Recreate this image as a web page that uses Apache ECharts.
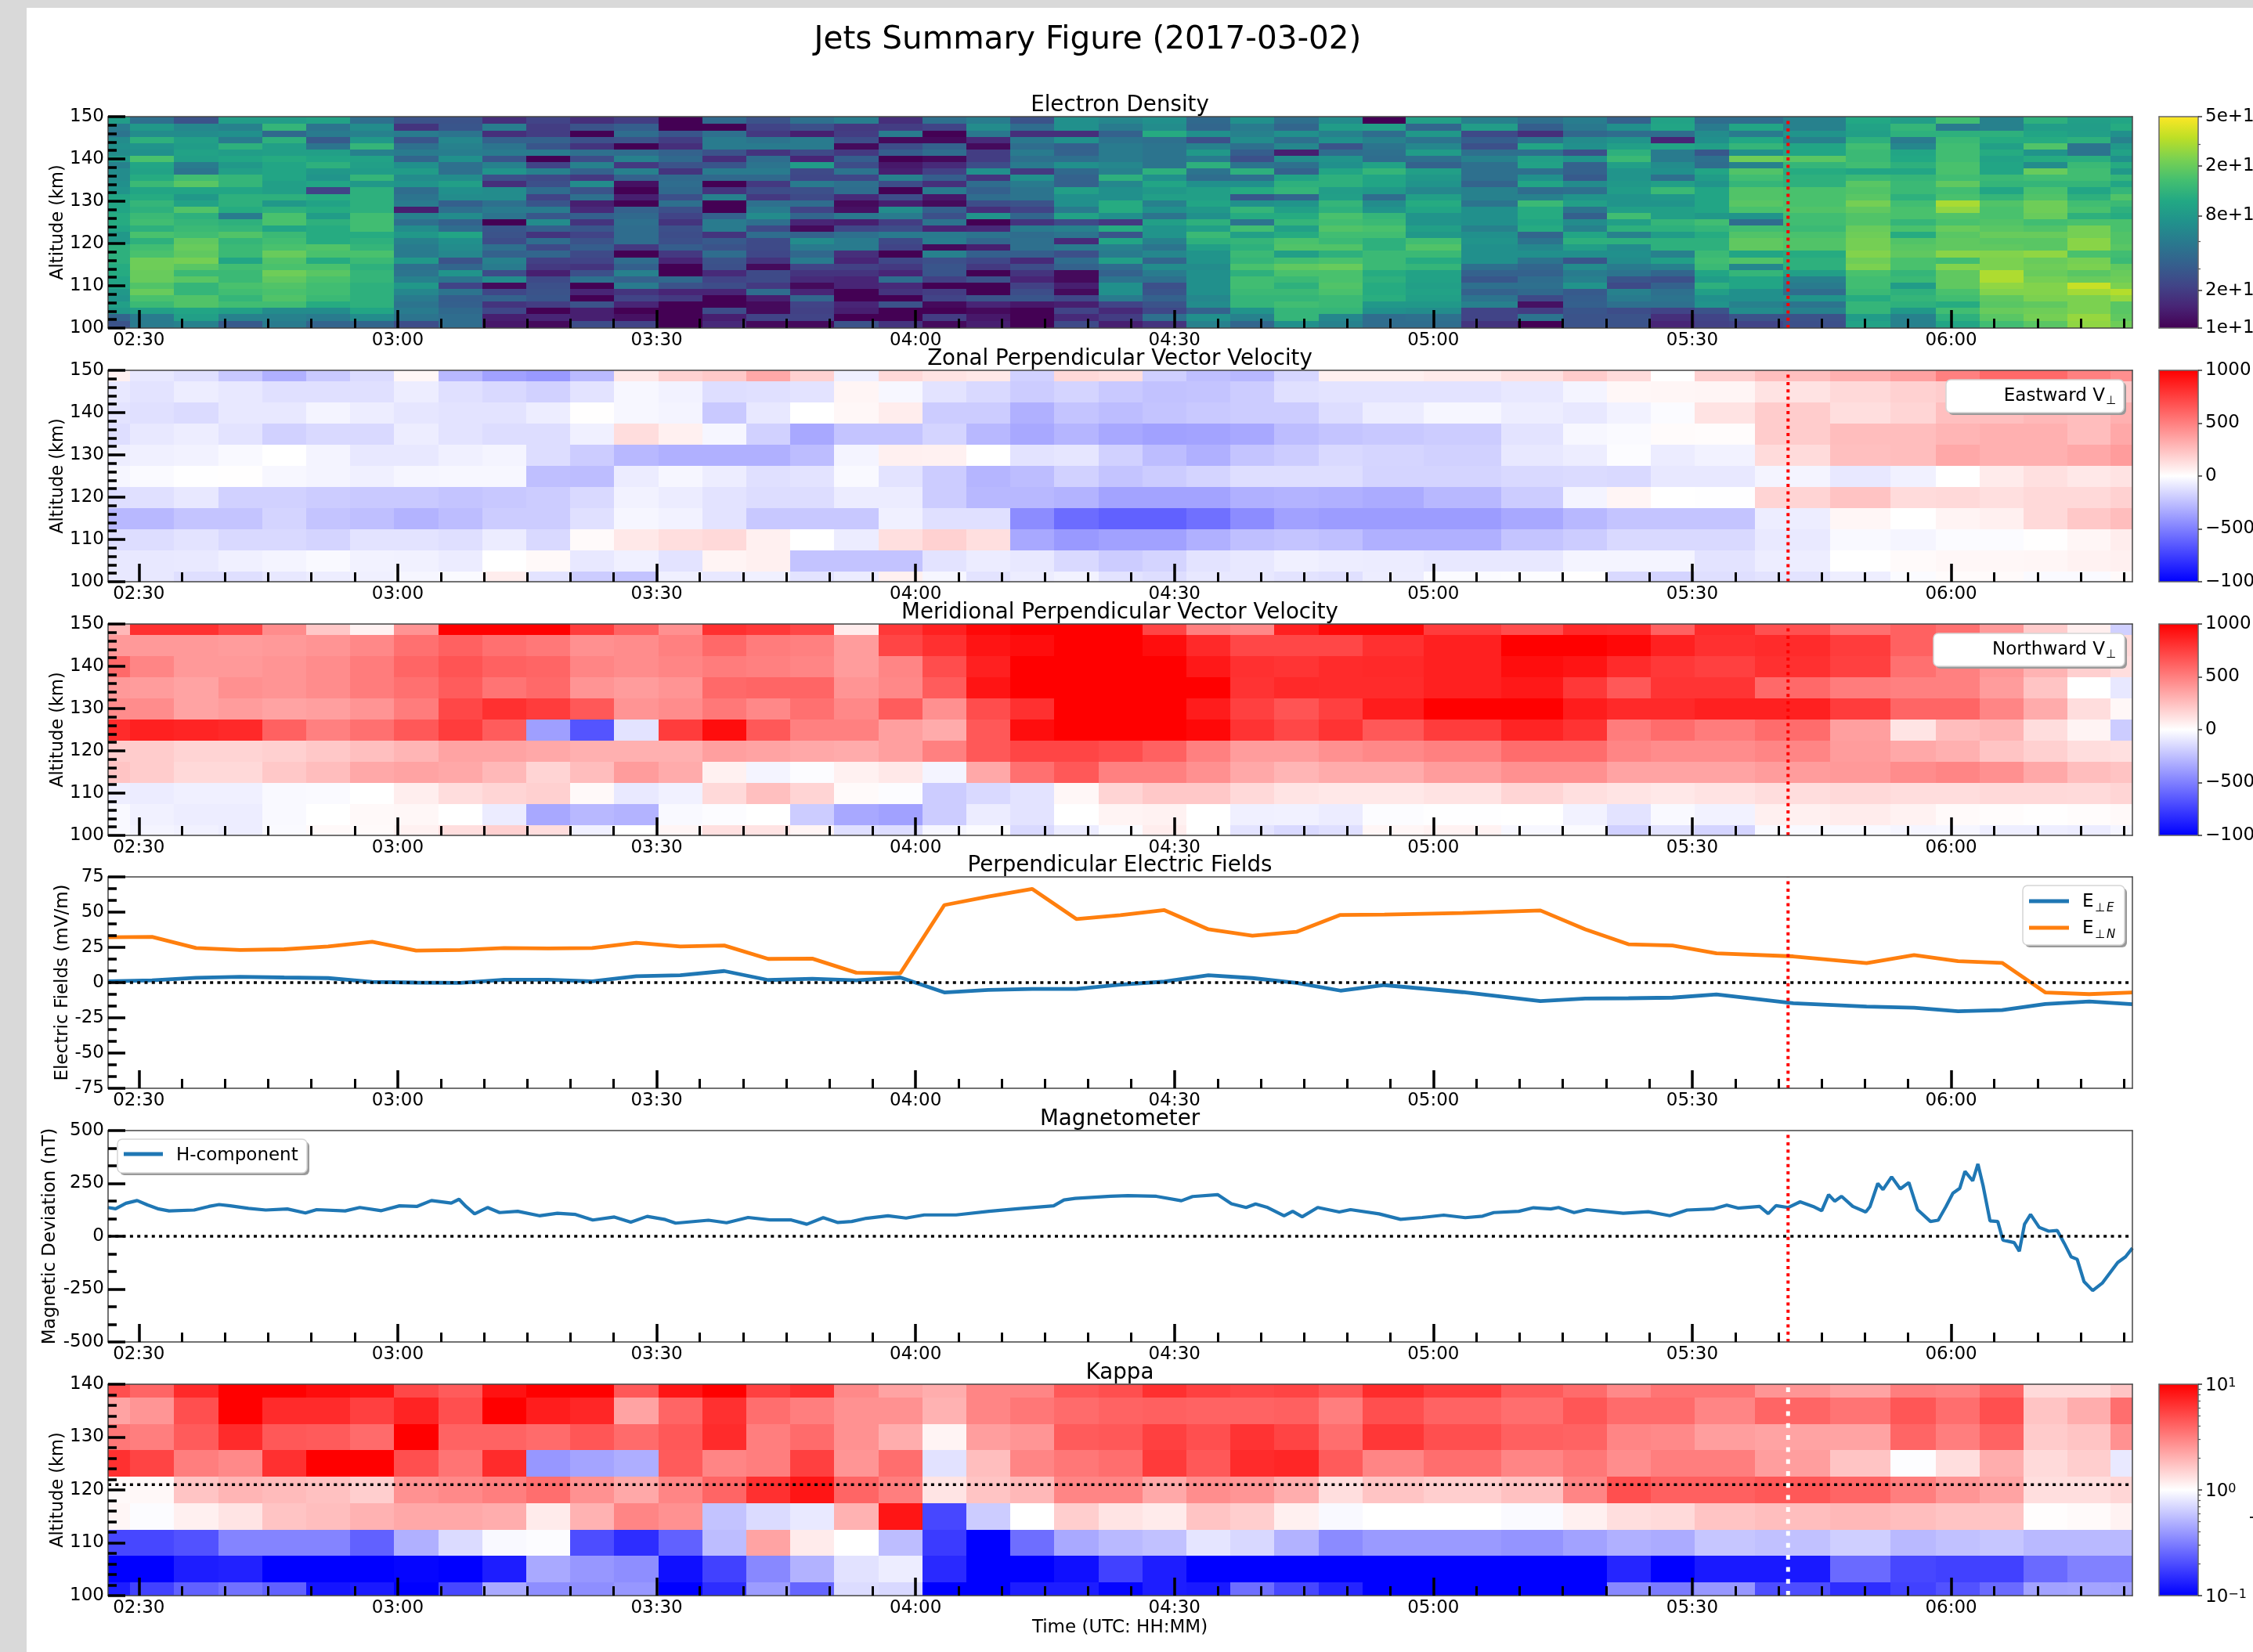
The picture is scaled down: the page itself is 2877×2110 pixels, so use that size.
<!DOCTYPE html>
<html><head><meta charset="utf-8">
<style>html,body{margin:0;padding:0;background:#d9d9d9;overflow:hidden}
#bg{position:absolute;left:34px;top:10px;right:0;bottom:0;background:#fff}
#c{position:absolute;left:0;top:0;width:2877px;height:2110px}</style>
<script src="https://cdn.jsdelivr.net/npm/echarts@6/dist/echarts.min.js"></script>
</head><body><div id="bg"></div><div id="c"></div>
<script>
// ---------- data (times in minutes after 00:00 UT, altitudes in km) ----------
const regularTimes=[146.43,151.53,156.63,161.73,166.83,171.93,177.03,182.13,187.23,192.33,197.43,202.53,207.63,212.73,217.83,222.93,228.03,233.13,238.23,243.33,248.43,253.53,258.63,263.73,268.83,273.93,279.03,284.13,289.23,294.33];
const velTimes=regularTimes.concat([303.4,312.4,317.6,322.6,327.7,332.8,341.7,350.2,355.7,360.8,365.9,370.9,376.0,381.0]);
const denTimes=regularTimes.concat([299.3,307.1,312.4,317.6,322.6,327.7,332.8,335.7,345.4,350.2,355.7,360.8,365.9,370.9,376.0,381.0]);
const velAlt=[150,145,140,135,130,125,120,115,110,105,100];
const kapAlt=[140,135,130,125,120,115,110,105,100];
const denAlt=[149,147.5,146,144.5,143,141.5,140,138.5,137,135.5,134,132.5,131,129.5,128,126.5,125,123.5,122,120.5,119,117.5,116,114.5,113,111.5,110,108.5,107,105.5,104,102.5,101];
const eventTime=341.1, kappaLine=121;
// electron density, units of 1e10 m^-3, rows top to bottom
const density=[
[8.6,4.2,2.7,8.6,8.6,9.5,4.2,2.7,2.7,1.7,2.2,1.7,2,1,3.8,2.7,4.2,5.2,1.7,4.2,5.2,2.7,7,6,7,3.8,7,4.2,6.5,1,9,5.5,4.2,5.2,3.4,9.5,4,4,5.5,10.5,8.6,15,5.5,12,9,10],
[5,8,6,5.5,13,4.5,6.5,1.8,2.8,5.2,2,2.7,3.2,1,1,2.2,2.6,1.9,2,2.2,6.5,4,7,5,6.5,3.6,5,3.6,8.5,9,3.6,8.6,3.2,4.8,7,10,5,10,5.5,9.5,13,5,5.5,8.6,8.6,11],
[4.5,6.5,6.5,7,3.8,5,5.5,5,4.5,1.7,2,1,4,2.8,4.2,1.9,1.4,2,5,1,4.8,1.7,1.7,3.4,11,7,5.5,7,5.5,4,8,2.4,1.7,3.7,4,4,6.5,5,7.5,9,12,12,12,10,9,7],
[6.5,12,9,5,12,3,8,2.8,6,3.4,3.4,2.6,2.7,2,5,4.5,5,2.5,1.1,1.1,1.6,4.8,7,4.5,4.2,2.6,6.5,4.2,7,5.5,4.5,3.2,4.5,6.5,7.5,1.5,7,10.5,5.5,12,5,14,11,11,12,5.5],
[7,7.5,8.5,12,9,4.5,13,4.2,5.5,4.5,2.8,1.8,1,1.7,5,5,5,1.1,2.5,3.4,1.1,4,3.3,5,4.5,5.5,4.2,6,2.7,4.5,6,2.6,10,7,9,10,9,13,10,15,6,15,9,17,4.5,8],
[6.5,7,9.5,8.6,9,9,5.5,5,5.2,5,5,4.2,4,3.4,2.7,1.8,2.4,1.9,3.2,4,2,5,3.4,5,4.5,8,3.2,1.4,4,4.2,8.5,4.2,4.2,2.6,12,5,2.9,7,10,14,10,15,11,7.5,4.5,9.5],
[8,16,9,10,11,10,9.5,3.6,7,2.8,1,2.5,5.5,3.8,1.7,4,1.5,3.2,1,1.1,2,4.2,4.2,5,4.5,5,2.6,6.5,7.5,4,4.2,5.5,9,7.5,14,5,4.2,21,18,14,10.5,15,9.5,11,11.5,7],
[5.5,10,5,8,10,12,9,7,4.2,5.5,2.2,5.5,1.9,2.7,2.8,4.5,8.5,2.5,1.3,1.6,2.5,5,7,6,4.5,12,4.5,4.2,7,9.5,3.4,4.2,9.5,3.4,9,6.5,4,5.5,13,15,12,16,10,6.5,14,11],
[6.5,9.5,4.5,9,10,8,8.5,8.5,4.2,7.5,5.5,3.4,5.5,1.8,5,5,2.4,4.5,1.4,2.1,7,1.9,3.8,5.5,12,4.5,12,3.4,10,13,9,4.2,4.2,3.4,7.5,7,10,17,11,10,10,16,10,20,15,8],
[6.5,11,15,13,10,7.5,13,6.5,6.5,2.6,2.4,1.9,3.4,3.8,3.8,3.8,2.3,2.3,5.5,3.2,1.8,7,3.4,12,7,4,4.2,9.5,12,10,8,4.2,7,3,7.5,4.2,8.5,15,12,14,13,15,14,15,15,13],
[7,14,18,13,9,10,8,7.5,9,1.7,2.6,6.5,1.2,4,1,1.9,5,4.2,2.5,1.7,4,5,3.4,6,10,7,7,12,12,10,7.5,3.5,10,6.5,8,9,7.5,13,12,18,14,19,13,13,13,10],
[7.5,10,10,10,9,2.2,12,4,7,6.5,4,2.7,1,3.8,1.8,2.5,2.6,4,1,5,3.3,4.5,9,7,8,9,11,13,8.6,8,6,5.5,4,4.2,8.5,14,10,17,16,17,14,15,10,16,10,13],
[10,11,8,12,12,11,12,4.5,6.5,6.5,2.2,4.2,1.4,2.6,5.5,1.9,2.4,1.6,2.5,1.3,4,4.5,7,7,9,9,2.9,3.6,9,4,9,5.5,5.5,7.5,7.5,8,10,17,16,18,12,16,13,17,12,17],
[10,13,9.5,12,8,9.5,12,5,3.3,4.2,2.8,1.4,1,4.2,1,4.2,4,1.1,1.4,1.1,2.5,2.7,7,11,5.5,10,7,7.5,13,6.5,11,4.5,14,9,7.5,7.5,10,18,16,22,15,30,17,21,15,14],
[10,12,17,11,12,11,12,1.4,4.2,5,5,1.6,3.4,2.6,1,5,2.2,1.2,6.5,3.3,1.7,2.2,5,11,7,8,13,9,12,7.5,10,7,11,4.5,9,9,10,16,17,19,16,26,16,21,16,12],
[11,14,12,5,16,8.5,15,5.5,6.5,4.5,2.9,3.3,3.8,2.2,3.4,6.5,3.6,4.8,5,2.6,7.5,3.6,9.5,7,4.5,7,11,11,16,13,7.5,7,11,3.3,15,9,8,7.5,15,17,16,17,16,20,12,11],
[11,15,13,12,16,12,15,4.2,3.4,1,6.5,1.8,4.2,1.8,5,4.2,1.5,1.4,2,4.5,1,1.8,2.4,1.9,9,12,4.5,13,15,14,7.5,7,10,6.5,9,13,15,4,15,17,13,16,17,15,16,16],
[10,12,14,13,10,11,15,6.5,4,2.8,3.3,2.8,4,2.6,5,2.4,1.1,2.3,2.5,1.5,1.6,5,5.5,11,7.5,9,15,9,17,16,9,5.5,11,5.5,12,12,13,15,14,20,16,20,18,17,22,16],
[8,16,15,17,14,11,11,8,10,2.7,1.8,2.2,4,2.5,1.8,4,3.4,4.2,5,5,4.5,4,4.5,2.8,7.5,14,9,11,15,15,8,7,3.6,10,5.5,8.5,11,17,16,21,11,18,20,20,22,17],
[8,12,19,13,15,11,12,5.5,7,2.5,4,2.7,4,2.6,3,2.4,6.5,5,2.4,5.2,3.6,4.2,1.6,10,5.5,12,13,16,14,12,15,7.5,4.5,12,12,12,12,19,17,22,17,19,18,18,25,17],
[12,15,20,14,16,17,13,5,6.5,4.2,2.4,3.2,1.9,3.2,2.7,2.4,5,5,2.2,1.1,1.4,4.2,5,5.5,4.5,9,12,17,17,12,17,7,6,9,6.5,12,12,19,17,22,18,19,19,18,25,18],
[12,16,19,14,20,16,16,5,6,3.4,3.6,2.4,1,1.9,4,2.3,3.7,1.7,1,5.5,3.3,3.2,2.6,5,6,7.5,14,9,12,14,14,7,7,7,7,5.5,14,10,11,24,19,25,24,26,16,15],
[12,21,22,10,17,11,14,8,2.7,5.5,2.1,2.2,4,1.5,2.7,1.8,5,1.5,2.3,2.6,2.3,1.6,4,9,3.6,7.5,13,15,16,14,11,7,4.5,2.8,6.5,9,15,17,12,21,16,15,23,20,22,14],
[11,21,18,15,16,16,12,4.2,3.6,5,1.9,1.8,3.3,1,2.6,1.1,2.2,2.1,1.9,2.8,1.9,2.5,3.4,4,6.5,6.5,16,19,20,14,13,4.2,3.6,6.5,5,5.5,14,6,12,23,16,24,23,21,23,19],
[11,20,14,14,21,18,13,4.5,7.5,2.5,1.4,2.6,5.5,1,1.6,2.4,1.8,1.8,1.5,2.8,1,1.8,1.1,3.4,5,7,12,16,16,11,9.5,3.4,3.4,5,4.5,3.6,10,13,9,16,13,19,31,20,18,20],
[10,20,18,14,19,16,13,5.5,4.5,6.5,2.4,4.2,3.4,3.8,2.2,2.4,1.6,1.5,4,2.1,2.6,1.5,1.1,4.5,4.2,7,15,14,16,12,9.5,2.9,4,5.5,2.8,2.6,8.5,10,5.5,15,14,19,31,22,20,21],
[10,17,13,16,17,15,12,8,2.2,1.1,2.6,1,5,2.7,2.5,1.9,1.1,1.5,1.6,1,1,2.1,1.4,7,2.6,7,15,12,17,11,9,4.2,4.2,7.5,2.4,3.4,12,10,5,15,8.5,19,26,24,36,23],
[8,20,13,15,16,15,12,6,4.5,2.3,2.7,1.5,1.8,1.5,1.5,4,1.5,1,1.8,2,1,2.5,1.1,7,2.8,7,14,14,16,11,9.5,3.4,3.8,3,5.5,4.2,9,7,4,14,12,16,24,24,29,32],
[7.5,16,17,13,17,14,12,5,3.2,3.4,2.8,1,2.2,1.9,1,1.4,3.6,1,1,2.2,2.7,2.8,2.3,5,3.4,6,13,13,14,11.5,9,4.5,2.4,3.2,5,4.5,7,7,7.5,11,13,15,19,23,23,27],
[9,14,17,15,15,11,12,4.5,3.3,1.8,2,2.7,1.5,1,1,1.1,2.2,1.5,2.7,1.1,1.5,1.3,1.4,2.2,2.7,6.5,13,15,14,8,8,5.5,1.2,3.3,4.2,4.2,7.5,5.5,4.5,13,12,11,18,19,23,18],
[8,9,10,9,6.5,6.5,10,5,3.8,2.3,1,1.4,1,1,2.5,1.1,2.1,1.4,1,1,1.1,1,2.2,1.6,2.3,3.4,7.5,13,13,7,6.5,2.2,2,2.8,2.5,2.2,2.7,6.5,5.5,13,8,15,20,21,23,18],
[3.5,5,9,5.5,5.5,5,6.5,4.5,4,1.4,1.5,1.4,1.2,1,1.4,2.2,2.2,1,1,2,1.3,1,1.6,2,4.2,7,5.5,13,6,4,4.2,2.2,4.5,2.7,2.7,1.7,2.2,2.7,2.7,8.5,5.5,12,18,22,27,19],
[2.7,5,5.5,3,5,3.5,3.6,2.5,4,1.3,1.1,2.5,2.2,1,1.6,1.1,1.1,2.7,1.8,1.1,1.4,1,2.4,1.4,1.8,5.5,3.6,7,5.5,4,4,1.8,1,2.7,2.7,1.5,2.1,2.2,2.6,9.5,5.5,10,15,18,26,21]
];
// eastward (zonal) velocity, m/s
const zonal=[
[60,-90,-120,-215,-310,-210,-140,30,-280,-370,-400,-270,90,180,210,340,180,-60,150,110,90,-180,150,130,-190,-250,-280,-160,60,60,80,120,200,140,0,180,250,310,370,500,590,590,500,440],
[-90,-110,-70,-90,-120,-120,-120,-70,-120,-150,-180,-110,-30,-50,-130,-120,-110,40,-30,-110,-150,-200,-170,-210,-240,-230,-200,-120,-110,-110,-110,-90,-45,30,35,40,110,150,180,200,210,200,200,220],
[-110,-120,-140,-90,-90,-45,-70,-100,-110,-110,-70,5,-30,-45,-210,-90,0,30,70,-200,-200,-310,-230,-260,-230,-210,-200,-200,-135,-75,-35,-70,-90,-50,-15,110,200,130,165,250,250,280,260,310],
[-130,-90,-70,-110,-180,-150,-150,-70,-110,-135,-135,-60,135,60,-35,-180,-340,-230,-230,-170,-280,-340,-290,-340,-370,-360,-340,-260,-230,-215,-200,-110,-30,-20,15,10,200,260,260,290,310,310,260,340],
[-70,-60,-50,-25,0,-45,-90,-90,-60,-45,-135,-200,-280,-310,-310,-310,-260,-45,60,55,0,-110,-100,-180,-260,-310,-230,-200,-150,-165,-180,-90,-70,-10,-75,-50,140,250,260,340,310,310,340,390],
[-35,-20,-5,5,-30,-45,-60,-35,-30,-30,-250,-260,-75,-35,-70,-120,-110,-25,-110,-200,-290,-260,-180,-230,-200,-170,-130,-130,-130,-170,-170,-150,-140,-150,-90,-90,-45,-90,-55,0,80,120,90,110],
[-130,-120,-90,-180,-180,-200,-210,-210,-230,-215,-200,-150,-50,-75,-110,-135,-135,-75,-75,-200,-280,-280,-300,-360,-360,-360,-310,-300,-310,-330,-280,-200,-45,40,0,-5,170,235,140,150,125,150,150,180],
[-280,-280,-230,-230,-170,-230,-250,-300,-260,-200,-200,-120,-35,-50,-110,-215,-215,-215,-60,-120,-120,-450,-575,-620,-620,-560,-450,-370,-390,-390,-390,-340,-280,-230,-230,-230,-70,35,0,45,60,150,215,260],
[-135,-135,-110,-150,-150,-170,-110,-110,-125,-75,-150,20,90,130,150,60,0,-75,125,180,125,-340,-400,-370,-370,-310,-250,-230,-250,-310,-310,-230,-200,-150,-150,-150,-85,-25,-40,-15,-15,5,35,70],
[-90,-90,-85,-60,-45,-25,-50,-55,-75,0,25,-90,-60,-110,45,60,-235,-235,-235,-110,-75,-90,-150,-200,-170,-110,-90,-60,-70,-75,-90,-90,-45,-45,-45,-110,-70,0,20,30,30,35,50,60],
[-90,-90,-125,-125,-90,-70,-60,-35,-20,70,-110,-200,-235,-60,-90,-60,-110,-75,60,-35,-110,-70,-50,-110,-130,-90,-90,-110,-120,-70,-15,-10,5,-150,-170,-125,-110,-65,-15,15,20,-20,-20,20]
];
// northward (meridional) velocity, m/s
const meridional=[
[280,810,810,720,450,215,55,420,1000,1000,1000,765,610,435,810,780,720,75,780,875,970,1000,1000,1000,730,500,465,875,970,970,765,700,840,830,620,830,685,560,620,560,400,200,65,-185],
[400,400,400,390,400,420,465,560,620,560,530,435,450,500,590,515,500,390,730,810,920,950,1000,1000,950,840,720,720,720,810,875,1000,1000,970,875,810,830,765,620,600,550,400,250,150],
[590,480,400,400,420,450,515,605,670,620,605,480,450,480,515,500,480,390,480,700,875,1000,1000,1000,1000,905,810,795,830,840,875,950,920,830,780,750,810,750,560,500,410,300,190,130],
[400,390,360,435,420,450,515,560,640,545,590,420,390,420,590,605,605,420,465,640,920,1000,1000,1000,1000,1000,800,840,830,830,875,905,780,655,795,795,590,515,500,500,390,230,0,-90],
[450,450,360,390,360,375,420,515,720,810,765,655,420,450,530,465,560,465,640,435,700,810,1000,1000,1000,890,750,670,750,890,1000,1000,890,840,840,875,875,765,605,605,480,330,135,30],
[830,875,860,840,620,500,560,655,765,640,-375,-670,-110,765,950,655,500,500,375,330,655,950,1000,1000,1000,970,800,720,800,655,765,860,800,515,575,515,575,375,105,260,290,135,45,-200],
[200,200,170,170,185,215,250,290,360,360,340,310,310,310,375,360,340,330,375,500,655,730,730,700,620,500,390,390,435,465,500,575,575,480,450,450,480,390,340,310,230,185,135,120],
[230,200,150,150,215,260,340,360,340,280,170,260,390,330,55,-45,-10,55,90,-45,340,560,655,500,500,435,340,290,330,330,390,435,435,360,360,360,390,400,450,480,435,340,260,235],
[-65,-75,-60,-60,-25,-20,0,65,135,165,185,25,-85,-55,150,250,170,20,-10,-200,-150,-110,30,170,215,215,150,105,90,90,110,165,125,105,90,110,135,150,135,135,150,150,145,165],
[-25,-55,-70,-70,-25,0,25,30,0,-75,-340,-280,-300,-25,-10,0,-200,-340,-370,-200,-75,-110,0,45,50,0,-60,-55,-75,-10,-5,0,-50,-110,-25,-50,60,75,50,20,10,5,10,25],
[-25,-45,-55,-70,-20,25,20,55,130,185,135,-60,0,40,120,110,45,-125,-135,-35,-15,-150,-75,-15,70,0,-110,-150,-125,35,50,-30,-15,-185,-110,-170,-25,-25,-40,-35,-65,-65,-75,-40]
];
// kappa
const kappa=[
[4.9,4,6.9,10,10,9,8.4,5.2,4.4,8.5,10,10,4.5,8.3,10,5.6,6.5,2.9,2.3,2.1,3,3,4.5,4.9,6.5,5.6,5.2,5.4,4.5,6.8,5.8,4.4,3.8,2.9,3.5,3.5,2.6,2.3,3.2,3.1,4,1.4,1.4,1.7],
[2.3,2.6,4.9,10,6.8,6.8,5.6,7.3,4.9,10,7.7,7.1,2.3,4,6.5,3.7,3.2,2.7,2.7,2,3,3.4,3.8,4.1,4.2,4.1,4.1,4.2,3.2,4.9,4.1,3.7,4.6,3.8,3.8,3,4,3.5,4.6,3.7,4.9,1.7,2.1,3.7],
[3.4,3.2,4.4,6.8,4.5,4.4,3.8,10,4.1,4.1,3.8,4.6,3.8,4.5,6.8,3.2,3.8,2.7,2.1,1.1,2.4,2.6,4.4,4.5,5.6,4.9,6.3,5.4,3.7,6.1,4.9,4.2,4.1,3,2.9,2.4,2.3,2.3,4,3.2,4.1,1.6,1.7,2.7],
[6.5,5.4,3.2,2.9,6.5,10,10,4.9,3.5,6.8,0.39,0.44,0.48,4.4,3,3.2,5.6,2.6,3.7,0.77,1.8,3,3.4,3.7,5.9,4.5,6.8,7.1,4.4,3,3.7,3,3.4,2.8,3.2,3.2,2.4,1.7,0.98,1.35,2.1,1.4,1.55,0.82],
[1.06,1.07,1.7,1.95,1.85,1.75,1.55,2.7,2.9,3.2,3.7,2.7,2.2,3,4,6.5,8.3,4,3.2,1.28,1.7,1.9,3,3,2.2,2.8,2.6,2.1,1.35,1.7,1.55,1.75,3,4.9,4.2,4.2,4.5,4,3.2,2.6,2.3,1.35,1.35,1.45],
[1.08,0.97,1.15,1.28,1.7,1.8,2,2.2,2.2,2.1,1.2,2,3,2.7,0.58,0.72,0.82,2,8.3,0.19,0.63,1,1.55,1.28,1.2,1.7,1.55,1.15,0.95,1,1,0.96,1.15,1.35,1.4,1.7,1.8,1.9,1.8,1.7,1.7,1.02,1.05,1.12],
[0.19,0.19,0.21,0.33,0.33,0.33,0.24,0.49,0.72,0.95,0.97,0.2,0.15,0.24,0.55,2.3,1.2,1,0.55,0.17,0.1,0.27,0.46,0.53,0.57,0.79,0.7,0.5,0.35,0.4,0.4,0.38,0.43,0.49,0.47,0.6,0.57,0.65,0.53,0.57,0.6,0.53,0.53,0.53],
[.1,.1,.13,.135,.1,.1,.1,.105,.1,.13,.46,.39,.36,.115,.18,.34,.5,.77,.85,.145,.1,.1,.115,.18,.13,.1,.1,.1,.1,.1,.1,.1,.1,.14,.1,.125,.125,.26,.19,.18,.18,.26,.32,.32],
[.13,.18,.24,.28,.24,.12,.125,.1,.19,.46,.36,.36,.39,.1,.15,.41,.25,.73,.7,.1,.1,.13,.13,.105,.13,.125,.27,.19,.14,.1,.1,.1,.1,.34,.3,.39,.2,.15,.18,.21,.26,.43,.44,.43]
];
// perpendicular electric field, mV/m (sampled at velTimes)
const eEast=[0.9,1.6,3.4,4.1,3.6,3.2,0.5,0,-0.2,2,2,0.9,4.5,5.2,8.2,1.8,2.7,1.6,3.6,-7,-5.2,-4.5,-4.5,-1.4,0.7,5.2,3.2,-0.2,-5.7,-1.8,-6.8,-13.1,-11.3,-11.1,-10.7,-8.4,-14.7,-17,-17.9,-20.4,-19.5,-15.2,-13.4,-15.4];
const eNorth=[32.2,32.4,24.5,23.1,23.6,25.6,29,22.7,23.1,24.5,24.2,24.5,28.3,25.6,26.3,16.8,17,7,6.6,55,61,66.4,45.1,47.8,51.4,37.8,33.3,36,48,48.3,49.4,51.2,37.8,27.2,26.3,20.8,18.6,13.8,19.5,15.2,14,-7,-8.2,-7];
// magnetometer H component, nT
const magTimes=[146.4,147.3,148.5,149.8,151,152.3,153.5,156.4,158.1,159.3,160.6,162.7,164.7,167.2,169.3,170.6,173.9,175.6,178.1,180.2,182.2,183.9,186.2,187.1,187.9,188.9,190.4,191.8,193.9,196.4,198.5,200.6,202.6,205.1,207,208.9,211,212.2,216,218.1,220.6,223.1,225.6,227.4,229.3,231,232.6,234.3,236.8,238.9,241,244.7,248.5,251.8,256,257.2,258.5,262.6,264.6,267.9,270.8,272.1,275,276.6,278.3,279.4,280.8,282.7,283.7,284.8,286.6,289.1,290.4,293.7,296.2,298.7,301.2,303.7,305.7,307,309.9,311.6,313.6,314.5,316.3,317.8,322,324.9,327.4,329.4,332.4,334,335.3,337.8,338.8,339.7,341.1,342.5,344,345,345.8,346.5,347.3,348.6,350.1,350.6,351.5,352.1,353.1,354.1,355.1,356.1,357.6,358.5,359.4,360.2,361,361.6,362.5,363.1,363.7,364.5,365.4,366,367.3,367.9,368.5,369.2,370.2,371.3,372.3,373.1,373.9,374.6,375.4,376.4,377.5,379.3,380.2,381];
const magH=[136,130,156,169,148,129,120,124,141,150,144,132,124,129,110,126,120,136,121,144,141,169,157,175,141,106,136,112,118,97,109,103,77,91,67,94,79,62,76,64,89,77,77,57,88,65,70,85,97,86,101,101,118,130,144,172,179,189,192,189,168,188,197,154,136,153,136,97,118,92,136,115,126,106,80,89,100,88,95,112,118,135,129,136,112,126,109,116,97,124,129,147,133,141,107,145,136,163,141,121,197,166,189,141,115,141,250,221,281,224,254,126,70,76,141,204,227,307,262,342,239,73,70,-18,-30,-71,57,103,42,24,27,-33,-97,-109,-215,-257,-222,-124,-97,-56];
const timeMajor=[150,180,210,240,270,300,330,360];
const timeMinor=[155,160,165,170,175,185,190,195,200,205,215,220,225,230,235,245,250,255,260,265,275,280,285,290,295,305,310,315,320,325,335,340,345,350,355,365,370,375,380];
const densityTicks=[1,2,8,20,50], densityLabels=['1e+10','2e+10','8e+10','2e+11','5e+11'], densityMinor=[3,5,30];
const kappaMinor=[.2,.3,.4,.5,.6,.7,.8,.9,2,3,4,5,6,7,8,9];

// ---------- colours ----------
const viridisStops=['#440154','#482475','#414487','#355f8d','#2a788e','#21918c','#22a884','#44bf70','#7ad151','#bddf26','#fde725'];
const hex=c=>[1,3,5].map(i=>parseInt(c.substr(i,2),16));
function viridis(t){t=Math.max(0,Math.min(1,t));const p=t*10,i=Math.min(9,Math.floor(p)),f=p-i,a=hex(viridisStops[i]),b=hex(viridisStops[i+1]);
  return 'rgb('+a.map((v,k)=>Math.round(v+(b[k]-v)*f)).join(',')+')';}
function bwr(s){s=Math.max(-1,Math.min(1,s));const c=Math.round(255*(1-Math.abs(s)));return s>=0?`rgb(255,${c},${c})`:`rgb(${c},${c},255)`;}
const colDensity=v=>viridis(Math.log10(v)/Math.log10(50));
const colVel=v=>bwr(v/1000);
const colKappa=v=>bwr(Math.log10(v));

// ---------- layout ----------
const FONT='DejaVu Sans', AL=138, AW=2723-138, CL=2757, CW=50, XMIN=146.43, XMAX=381.0;
const tops=[149,473,797,1120,1444,1768], H=270;
const spine={color:'#444',width:1.5};
const PAD=[4,0,0,0];
const grid=[],xAxis=[],yAxis=[],series=[];
const hhmm=v=>{const h=Math.floor(v/60),m=Math.round(v-h*60);return String(h).padStart(2,'0')+':'+String(m).padStart(2,'0');};
function addGrid(l,w,t,h){grid.push({left:l,top:t,width:w,height:h,containLabel:false,outerBoundsMode:'none',show:false});return grid.length-1;}
function timeAxes(g){
  const base={gridIndex:g,type:'value',min:XMIN,max:XMAX,splitLine:{show:false},z:10};
  const i=xAxis.length;
  xAxis.push({...base,position:'bottom',axisLine:{show:true,onZero:false,lineStyle:spine},
    axisTick:{show:true,inside:true,length:23,lineStyle:{color:'#000',width:3.5},customValues:timeMajor},
    axisLabel:{show:true,customValues:timeMajor,formatter:hhmm,color:'#000',fontSize:23,fontFamily:FONT,margin:5}});
  xAxis.push({...base,position:'bottom',axisLine:{show:false,onZero:false},
    axisTick:{show:true,inside:true,length:12,lineStyle:{color:'#000',width:3},customValues:timeMinor},axisLabel:{show:false}});
  xAxis.push({...base,position:'top',axisLine:{show:true,onZero:false,lineStyle:spine},axisTick:{show:false},axisLabel:{show:false}});
  return i;
}
function valueAxes(g,min,max,interval,split,name,gap,nameSize){
  const i=yAxis.length;
  yAxis.push({gridIndex:g,type:'value',position:'left',min,max,interval,splitLine:{show:false},z:10,
    axisLine:{show:true,onZero:false,lineStyle:spine},
    axisTick:{show:true,inside:true,length:22,lineStyle:{color:'#000',width:3.5}},
    minorTick:{show:true,splitNumber:split,length:11,lineStyle:{color:'#000',width:3.5}},minorSplitLine:{show:false},
    axisLabel:{color:'#000',fontSize:23,fontFamily:FONT,margin:5,padding:PAD},
    name,nameLocation:'middle',nameGap:gap,nameMoveOverlap:false,nameTextStyle:{color:'#000',fontSize:nameSize,fontFamily:FONT}});
  yAxis.push({gridIndex:g,type:'value',position:'right',min,max,interval,splitLine:{show:false},z:10,
    axisLine:{show:true,onZero:false,lineStyle:spine},axisTick:{show:false},axisLabel:{show:false}});
  return i;
}
function heat(xi,yi,rows,times,alts,colour,yMin,yMax){
  const data=[];rows.forEach((r,j)=>r.forEach((v,i)=>data.push([i,j,v])));
  const tEdge=i=>i<=0?XMIN:i>=times.length?XMAX:(times[i-1]+times[i])/2;
  // rows run top to bottom: edge j sits between rows j-1 and j
  const aEdge=j=>j<=0?yMax:j>=alts.length?yMin:(alts[j-1]+alts[j])/2;
  series.push({type:'custom',xAxisIndex:xi,yAxisIndex:yi,z:2,silent:true,animation:false,progressive:0,data,
    renderItem(p,api){const i=api.value(0),j=api.value(1),v=api.value(2);
      const a=api.coord([tEdge(i),aEdge(j)]),b=api.coord([tEdge(i+1),aEdge(j+1)]);
      const x=Math.round(a[0]),y=Math.round(a[1]);
      return {type:'rect',shape:{x,y,width:Math.round(b[0])-x,height:Math.round(b[1])-y},style:{fill:colour(v),stroke:null}};}});
}
function guide(xi,yi,pts,color,dash,width,z){
  series.push({type:'line',xAxisIndex:xi,yAxisIndex:yi,data:pts,showSymbol:false,symbol:'none',silent:true,animation:false,z,
    lineStyle:{color,width,type:dash,cap:'butt'}});
}
const DOT=[4,5.3];
function colorbar(t,min,max,stops,axisExtra){
  const g=addGrid(CL,CW,t,H),xi=xAxis.length,yi=yAxis.length;
  const frame={color:'#666',width:1.5};
  ['bottom','top'].forEach(pos=>xAxis.push({gridIndex:g,type:'value',min:0,max:1,position:pos,z:10,axisLine:{show:true,onZero:false,lineStyle:frame},axisTick:{show:false},axisLabel:{show:false},splitLine:{show:false}}));
  yAxis.push({gridIndex:g,type:'value',position:'left',min,max,z:10,axisLine:{show:true,onZero:false,lineStyle:frame},axisTick:{show:false},axisLabel:{show:false},splitLine:{show:false}});
  yAxis.push(Object.assign({gridIndex:g,type:'value',position:'right',min,max,z:10,splitLine:{show:false},
    axisLine:{show:true,onZero:false,lineStyle:frame},axisTick:{show:true,length:5,lineStyle:{color:'#333',width:1.5}},
    axisLabel:{color:'#000',fontSize:23,fontFamily:FONT,margin:9}},axisExtra.major));
  if(axisExtra.minor) yAxis.push({gridIndex:g,type:'value',position:'right',min,max,z:10,splitLine:{show:false},axisLine:{show:false,onZero:false},
    axisTick:{show:true,length:3,lineStyle:{color:'#555',width:1.2},customValues:axisExtra.minor},axisLabel:{show:false}});
  const grad=new echarts.graphic.LinearGradient(0,0,0,1,stops);
  series.push({type:'custom',xAxisIndex:xi,yAxisIndex:yi,z:2,silent:true,animation:false,data:[[0,min]],
    renderItem(p,api){const a=api.coord([0,max]),b=api.coord([1,min]);
      return {type:'rect',shape:{x:a[0],y:a[1],width:b[0]-a[0],height:b[1]-a[1]},style:{fill:grad}};}});
}
const bwrStops=[{offset:0,color:'#ff0000'},{offset:.5,color:'#ffffff'},{offset:1,color:'#0000ff'}];
const viridisGrad=viridisStops.slice().reverse().map((c,i)=>({offset:i/10,color:c}));

// ---------- panels ----------
const g0=addGrid(AL,AW,tops[0],H),x0=timeAxes(g0),y0=valueAxes(g0,100,150,10,5,'Altitude (km)',52,22.5);
heat(x0,y0,density,denTimes,denAlt,colDensity,100,150);
guide(x0,y0,[[eventTime,100],[eventTime,150]],'#ff0000',DOT,4,4);

const g1=addGrid(AL,AW,tops[1],H),x1=timeAxes(g1),y1=valueAxes(g1,100,150,10,5,'Altitude (km)',52,22.5);
heat(x1,y1,zonal,velTimes,velAlt,colVel,100,150);
guide(x1,y1,[[eventTime,100],[eventTime,150]],'#ff0000',DOT,4,4);

const g2=addGrid(AL,AW,tops[2],H),x2=timeAxes(g2),y2=valueAxes(g2,100,150,10,5,'Altitude (km)',52,22.5);
heat(x2,y2,meridional,velTimes,velAlt,colVel,100,150);
guide(x2,y2,[[eventTime,100],[eventTime,150]],'#ff0000',DOT,4,4);

const g3=addGrid(AL,AW,tops[3],H),x3=timeAxes(g3),y3=valueAxes(g3,-75,75,25,3,'Electric Fields (mV/m)',46,23);
series.push({type:'line',name:'E_east',xAxisIndex:x3,yAxisIndex:y3,z:3,showSymbol:false,symbol:'none',animation:false,silent:true,
  data:velTimes.map((t,i)=>[t,eEast[i]]),lineStyle:{color:'#1f77b4',width:4.8}});
series.push({type:'line',name:'E_north',xAxisIndex:x3,yAxisIndex:y3,z:3,showSymbol:false,symbol:'none',animation:false,silent:true,
  data:velTimes.map((t,i)=>[t,eNorth[i]]),lineStyle:{color:'#ff7f0e',width:4.8}});
guide(x3,y3,[[XMIN,0],[XMAX,0]],'#000',DOT,3.5,4);
guide(x3,y3,[[eventTime,-75],[eventTime,75]],'#ff0000',DOT,4,5);

const g4=addGrid(AL,AW,tops[4],H),x4=timeAxes(g4),y4=valueAxes(g4,-500,500,250,3,'Magnetic Deviation (nT)',62,23);
series.push({type:'line',name:'H-component',xAxisIndex:x4,yAxisIndex:y4,z:3,showSymbol:false,symbol:'none',animation:false,silent:true,
  data:magTimes.map((t,i)=>[t,magH[i]]),lineStyle:{color:'#1f77b4',width:4.2}});
guide(x4,y4,[[XMIN,0],[XMAX,0]],'#000',DOT,3.5,4);
guide(x4,y4,[[eventTime,-500],[eventTime,500]],'#ff0000',DOT,4,5);

const g5=addGrid(AL,AW,tops[5],H),x5=timeAxes(g5),y5=valueAxes(g5,100,140,10,5,'Altitude (km)',52,22.5);
heat(x5,y5,kappa,velTimes,kapAlt,colKappa,100,140);
guide(x5,y5,[[XMIN,kappaLine],[XMAX,kappaLine]],'#000',DOT,3.5,4);
guide(x5,y5,[[eventTime,100],[eventTime,140]],'#ffffff',[6,9.3],5,5);

// ---------- colour bars ----------
const lg=Math.log10;
colorbar(tops[0],0,lg(50),viridisGrad,{
  major:{axisTick:{show:true,length:5,lineStyle:{color:'#333',width:1.5},customValues:densityTicks.map(lg)},
    axisLabel:{color:'#000',fontSize:23,fontFamily:FONT,margin:9,padding:PAD,customValues:densityTicks.map(lg),
      formatter:v=>{const k=densityTicks.map(lg).findIndex(t=>Math.abs(t-v)<1e-6);return k<0?'':densityLabels[k];}}},
  minor:densityMinor.map(lg)});
const velMajor={interval:500,axisLabel:{color:'#000',fontSize:23,fontFamily:FONT,margin:9,padding:PAD,formatter:v=>String(v).replace('-','\u2212')}};
colorbar(tops[1],-1000,1000,bwrStops,{major:velMajor});
colorbar(tops[2],-1000,1000,bwrStops,{major:velMajor});
colorbar(tops[5],-1,1,bwrStops,{
  major:{axisTick:{show:true,length:5,lineStyle:{color:'#333',width:1.5},customValues:[-1,0,1]},
    axisLabel:{color:'#000',fontFamily:FONT,margin:9,padding:PAD,customValues:[-1,0,1],
      formatter:v=>`{b|10}{e|${String(Math.round(v)).replace('-','\u2212')}}`,
      rich:{b:{fontSize:23,fontFamily:FONT,color:'#000',verticalAlign:'bottom'},e:{fontSize:16,fontFamily:FONT,color:'#000',verticalAlign:'top'}}}},
  minor:kappaMinor.map(lg)});

// ---------- titles ----------
const sub=(text,top)=>({text,left:1430,top,textAlign:'center',textStyle:{color:'#000',fontFamily:FONT,fontSize:27.7,fontWeight:'normal'},padding:0});
const title=[
  {text:'Jets Summary Figure (2017-03-02)',left:1389,top:31,textAlign:'center',textStyle:{color:'#000',fontFamily:FONT,fontSize:40.5,fontWeight:'normal'},padding:0},
  sub('Electron Density',tops[0]-28),sub('Zonal Perpendicular Vector Velocity',tops[1]-28),sub('Meridional Perpendicular Vector Velocity',tops[2]-28),
  sub('Perpendicular Electric Fields',tops[3]-28),sub('Magnetometer',tops[4]-28),sub('Kappa',tops[5]-28),
  {text:'Time (UTC: HH:MM)',left:1430,top:2068,textAlign:'center',textStyle:{color:'#000',fontFamily:FONT,fontSize:23,fontWeight:'normal'},padding:0}
];

// ---------- legends (boxes and labels) ----------
const el=[];
function box(x,y,w,h){
  el.push({type:'rect',z:100,silent:true,shape:{x:x+3,y:y+3,width:w,height:h,r:6},style:{fill:'#999',stroke:null}});
  el.push({type:'rect',z:101,silent:true,shape:{x,y,width:w,height:h,r:6},style:{fill:'#fff',stroke:'#d5d5d5',lineWidth:1.5}});
}
function txt(text,x,y,size,align,italic){
  el.push({type:'text',z:102,silent:true,style:{text,x,y,fill:'#000',font:(italic?'italic ':'')+size+'px "'+FONT+'"',textAlign:align||'left',textVerticalAlign:'middle'}});
}
function handle(x1,x2,y,c){el.push({type:'line',z:102,silent:true,shape:{x1,y1:y,x2,y2:y},style:{stroke:c,lineWidth:4.8}});}
box(2485,485,227,42); txt('Eastward V',2688,506,23,'right'); txt('\u22a5',2689,512,15);
box(2469,809,244,42); txt('Northward V',2688,830,23,'right'); txt('\u22a5',2689,836,15);
box(2583,1131,130,76); handle(2591,2642,1151,'#1f77b4'); handle(2591,2642,1185,'#ff7f0e');
txt('E',2659,1152,23); txt('\u22a5',2675,1160,15); txt('E',2690,1160,15,'left',true);
txt('E',2659,1186,23); txt('\u22a5',2675,1194,15); txt('N',2690,1194,15,'left',true);
box(150,1455,242,43); handle(158,208,1474,'#1f77b4'); txt('H-component',225,1476,23);
el.push({type:'rect',z:102,silent:true,shape:{x:2873,y:1937,width:4,height:2},style:{fill:'#222'}});

const chart=echarts.init(document.getElementById('c'),null,{renderer:'canvas',width:2877,height:2110});
chart.setOption({backgroundColor:'transparent',animation:false,title,grid,xAxis,yAxis,series,graphic:{elements:el}});
</script></body></html>
